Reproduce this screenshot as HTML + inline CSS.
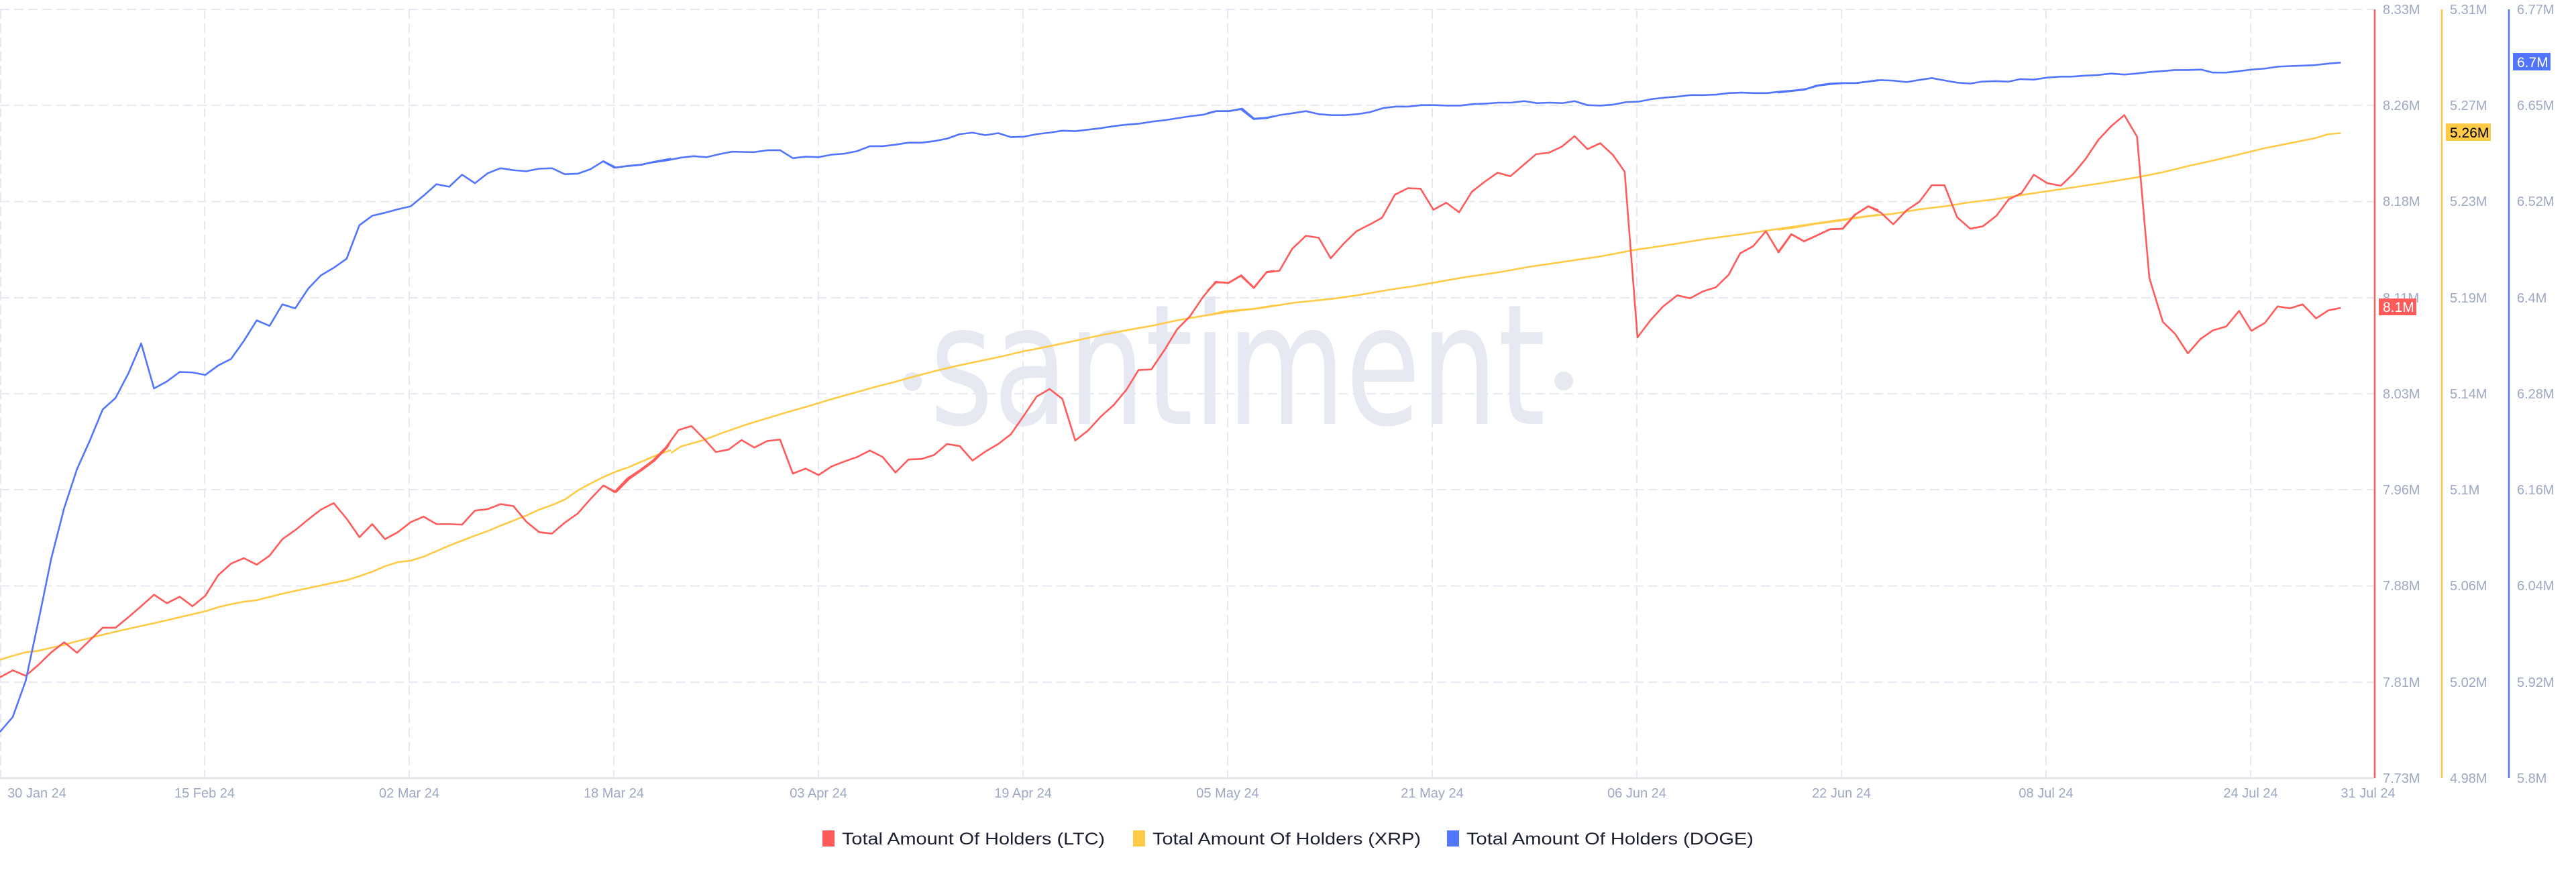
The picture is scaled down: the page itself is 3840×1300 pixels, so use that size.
<!DOCTYPE html>
<html><head><meta charset="utf-8"><style>
html,body{margin:0;padding:0;background:#fff;}
svg{display:block;}
.ax{font-family:"Liberation Sans",sans-serif;font-size:20px;fill:#9ea8c2;}
.lg{font-family:"Liberation Sans",sans-serif;font-size:25px;fill:#1d2030;}
.ln{fill:none;stroke-width:2.6;stroke-linejoin:round;vector-effect:non-scaling-stroke;}
</style></head><body>
<svg width="3840" height="1300" viewBox="0 0 3840 1300" xmlns="http://www.w3.org/2000/svg">
<g stroke="#e6e9f2" stroke-width="2" stroke-dasharray="14,7">
<line x1="0" y1="14" x2="3540" y2="14"/><line x1="0" y1="157" x2="3540" y2="157"/><line x1="0" y1="300.5" x2="3540" y2="300.5"/><line x1="0" y1="444" x2="3540" y2="444"/><line x1="0" y1="587" x2="3540" y2="587"/><line x1="0" y1="730" x2="3540" y2="730"/><line x1="0" y1="873.5" x2="3540" y2="873.5"/><line x1="0" y1="1017" x2="3540" y2="1017"/>
<line x1="1" y1="14" x2="1" y2="1160"/><line x1="305" y1="14" x2="305" y2="1160"/><line x1="610" y1="14" x2="610" y2="1160"/><line x1="915" y1="14" x2="915" y2="1160"/><line x1="1220" y1="14" x2="1220" y2="1160"/><line x1="1525" y1="14" x2="1525" y2="1160"/><line x1="1830" y1="14" x2="1830" y2="1160"/><line x1="2135" y1="14" x2="2135" y2="1160"/><line x1="2440" y1="14" x2="2440" y2="1160"/><line x1="2745" y1="14" x2="2745" y2="1160"/><line x1="3050" y1="14" x2="3050" y2="1160"/><line x1="3355" y1="14" x2="3355" y2="1160"/>
</g>
<line x1="0" y1="1160" x2="3540" y2="1160" stroke="#e2e5ee" stroke-width="2.5"/>
<!-- watermark -->
<circle cx="1360" cy="569" r="14" fill="#e6e9f2"/>
<text x="1386" y="632" font-family="'DejaVu Sans','Liberation Sans',sans-serif" font-size="250" fill="#e6e9f2" textLength="918" lengthAdjust="spacingAndGlyphs">santiment</text>
<circle cx="2331" cy="568" r="14" fill="#e6e9f2"/>
<!-- series: zoom5 -->
<g transform="translate(0,0) scale(0.6378,0.7463)">
<polyline class="ln" stroke="#ffcb47" points="0,1318 30,1310 60,1303 90,1300 120,1294 150,1288 180,1281 240,1268 300,1256 360,1245 420,1233 480,1221 510,1213 540,1207 570,1202 600,1199 660,1186 720,1175 780,1164 810,1159 840,1151 870,1142 900,1131 930,1123 960,1120 990,1112 1020,1101 1050,1090 1080,1080 1110,1070 1140,1061 1170,1050 1200,1040 1230,1030 1260,1018 1290,1009 1320,998 1350,980 1380,966 1410,953 1440,942 1470,933 1500,922 1530,911 1568,899"/>
<polyline class="ln" stroke="#ff5b5b" points="0,1353 30,1339 60,1350 90,1328 120,1303 150,1283 180,1304 210,1279 240,1254 270,1254 300,1233 330,1211 360,1188 390,1205 420,1192 450,1211 480,1190 510,1149 540,1126 570,1115 600,1128 630,1110 660,1077 690,1059 720,1038 750,1018 780,1005 810,1036 840,1073 870,1047 900,1077 930,1063 960,1043 990,1032 1020,1047 1050,1047 1080,1048 1110,1020 1140,1017 1170,1007 1200,1011 1230,1042 1260,1063 1290,1066 1320,1044 1350,1026 1380,997 1410,970 1440,983 1470,957 1500,939 1530,920 1560,893 1568,880"/>
<polyline class="ln" stroke="#5275ff" points="0,1462 30,1432 60,1360 90,1240 120,1115 150,1015 180,937 210,880 240,818 270,795 300,746 330,686 360,776 390,762 420,743 450,744 480,749 510,730 540,717 570,681 600,640 630,651 660,608 690,616 720,577 750,550 780,535 810,517 840,450 870,431 900,425 930,418 960,412 990,391 1020,368 1050,373 1080,349 1110,366 1140,346 1170,336 1200,340 1230,342 1260,337 1290,336 1320,348 1350,347 1380,338 1410,322 1440,335 1470,331 1500,329 1530,323 1568,317"/>
</g>
<g transform="translate(900,0) scale(0.6378,0.7463)">
<polyline class="ln" stroke="#ffcb47" points="157,905 180,892 230,880 280,864 330,849 380,836 430,823 480,811 530,798 580,786 630,774 680,763 730,751 780,740 830,730 880,721 930,712 980,702 1040,692 1100,681 1160,670 1220,660 1280,651 1340,640 1400,631 1460,623 1520,617 1568,610"/>
<polyline class="ln" stroke="#ff5b5b" points="0,970 25,983 55,956 85,939 115,920 145,894 175,859 205,851 235,877 262,903 292,898 322,879 352,894 382,881 412,878 442,946 472,936 502,949 532,932 562,922 592,913 622,900 652,913 682,944 712,918 742,917 772,909 802,887 832,891 862,920 892,902 922,887 952,867 982,830 1012,792 1042,777 1072,797 1102,880 1132,860 1162,832 1192,809 1222,778 1250,739 1280,738 1310,700 1340,658 1370,632 1400,594 1430,563 1460,565 1490,550 1520,575 1550,543 1568,541"/>
<polyline class="ln" stroke="#5275ff" points="0,323 25,335 50,332 80,330 110,325 150,320 180,315 210,312 240,314 270,308 300,303 350,304 385,300 412,300 442,316 472,313 502,314 532,309 562,307 592,302 622,292 652,292 682,289 712,285 742,285 772,282 802,277 832,268 862,265 892,270 922,266 952,274 982,273 1012,268 1042,265 1072,261 1102,262 1132,259 1162,256 1192,252 1222,249 1252,247 1282,243 1312,240 1342,236 1372,232 1402,229 1432,222 1462,222 1492,217 1520,237 1550,235 1568,232"/>
</g>
<g transform="translate(1800,0) scale(0.6378,0.7463)">
<polyline class="ln" stroke="#ffcb47" points="0,630 40,622 120,616 200,605 290,597 350,590 430,578 480,572 540,563 600,554 680,544 760,532 840,522 920,512 1000,499 1080,489 1160,478 1240,469 1320,459 1400,449 1480,439 1540,432 1568,429"/>
<polyline class="ln" stroke="#ff5b5b" points="0,581 20,564 50,565 78,551 108,575 138,544 168,541 198,497 230,471 260,475 288,516 318,487 348,462 378,449 408,435 438,389 468,376 498,377 528,419 558,405 588,424 618,383 648,363 678,345 708,352 738,330 768,308 798,305 828,293 858,272 888,298 918,286 948,310 975,343 1005,674 1035,640 1065,612 1098,590 1128,596 1158,582 1188,574 1218,549 1245,506 1275,492 1305,462 1335,504 1365,468 1395,482 1425,470 1455,458 1485,457 1515,428 1545,412 1568,420"/>
<polyline class="ln" stroke="#5275ff" points="0,226 20,222 50,222 78,218 108,238 138,236 168,230 200,226 230,222 260,228 290,230 320,230 350,228 380,224 410,216 440,213 470,213 500,210 530,210 560,211 590,211 620,208 650,207 680,205 710,205 740,202 770,206 800,205 830,206 858,202 888,210 918,211 948,209 978,204 1008,203 1038,198 1068,195 1098,193 1128,190 1158,190 1188,189 1218,186 1248,185 1278,186 1308,186 1338,183 1368,181 1398,178 1428,171 1458,168 1488,166 1518,166 1568,160"/>
</g>
<g transform="translate(2650,0) scale(0.5741,0.7463)">
<polyline class="ln" stroke="#ffcb47" points="0,459 40,455 100,447 160,441 235,432 300,427 370,418 435,412 500,404 565,398 630,390 700,382 770,374 840,366 935,354 1000,344 1070,331 1140,319 1200,308 1265,296 1330,286 1395,276 1430,268 1462,266"/>
<polyline class="ln" stroke="#ff5b5b" points="0,505 35,468 68,482 100,471 135,458 168,457 200,429 235,412 268,425 300,448 335,420 368,403 400,370 433,370 466,434 500,457 533,452 568,431 600,398 633,386 665,349 700,366 735,371 768,347 800,317 833,279 866,252 900,230 933,273 965,555 1000,643 1032,667 1065,706 1098,677 1130,660 1165,652 1198,621 1230,661 1265,645 1298,612 1330,616 1363,608 1398,636 1430,620 1462,615"/>
<polyline class="ln" stroke="#5275ff" points="0,185 35,182 70,179 100,171 135,167 165,166 200,166 235,163 268,160 300,161 335,164 365,160 400,156 435,161 465,165 500,167 530,163 565,162 600,163 630,158 665,159 700,155 735,153 765,153 800,151 830,150 865,147 900,149 930,147 965,144 1000,142 1030,140 1065,140 1100,139 1130,145 1165,145 1200,142 1230,139 1265,137 1300,133 1330,132 1365,131 1395,130 1430,127 1462,125"/>
</g>
<!-- axes -->
<line x1="3540" y1="14" x2="3540" y2="1160" stroke="#ff5b5b" stroke-width="2.5"/>
<line x1="3640" y1="14" x2="3640" y2="1160" stroke="#ffcb47" stroke-width="2.5"/>
<line x1="3740" y1="14" x2="3740" y2="1160" stroke="#5275ff" stroke-width="2.5"/>
<g class="ax">
<text x="3552" y="21">8.33M</text><text x="3552" y="164">8.26M</text><text x="3552" y="307">8.18M</text><text x="3552" y="451">8.11M</text><text x="3552" y="594">8.03M</text><text x="3552" y="737">7.96M</text><text x="3552" y="880">7.88M</text><text x="3552" y="1024">7.81M</text><text x="3552" y="1167">7.73M</text>
<text x="3652" y="21">5.31M</text><text x="3652" y="164">5.27M</text><text x="3652" y="307">5.23M</text><text x="3652" y="451">5.19M</text><text x="3652" y="594">5.14M</text><text x="3652" y="737">5.1M</text><text x="3652" y="880">5.06M</text><text x="3652" y="1024">5.02M</text><text x="3652" y="1167">4.98M</text>
<text x="3752" y="21">6.77M</text><text x="3752" y="164">6.65M</text><text x="3752" y="307">6.52M</text><text x="3752" y="451">6.4M</text><text x="3752" y="594">6.28M</text><text x="3752" y="737">6.16M</text><text x="3752" y="880">6.04M</text><text x="3752" y="1024">5.92M</text><text x="3752" y="1167">5.8M</text>
</g>
<rect x="3546" y="445" width="56" height="25" fill="#ff5b5b"/>
<text x="3552" y="465" font-family="'Liberation Sans',sans-serif" font-size="21" fill="#fff">8.1M</text>
<rect x="3646" y="184" width="67" height="26" fill="#ffcb47"/>
<text x="3652" y="205" font-family="'Liberation Sans',sans-serif" font-size="21" fill="#000">5.26M</text>
<rect x="3746" y="79" width="56" height="26" fill="#5275ff"/>
<text x="3752" y="100" font-family="'Liberation Sans',sans-serif" font-size="21" fill="#fff">6.7M</text>
<g class="ax" text-anchor="middle">
<text x="55" y="1189">30 Jan 24</text><text x="305" y="1189">15 Feb 24</text><text x="610" y="1189">02 Mar 24</text><text x="915" y="1189">18 Mar 24</text><text x="1220" y="1189">03 Apr 24</text><text x="1525" y="1189">19 Apr 24</text><text x="1830" y="1189">05 May 24</text><text x="2135" y="1189">21 May 24</text><text x="2440" y="1189">06 Jun 24</text><text x="2745" y="1189">22 Jun 24</text><text x="3050" y="1189">08 Jul 24</text><text x="3355" y="1189">24 Jul 24</text><text x="3530" y="1189">31 Jul 24</text>
</g>
<!-- legend -->
<rect x="1226" y="1238" width="18" height="24" fill="#ff5b5b"/>
<text class="lg" x="1255" y="1259" textLength="392" lengthAdjust="spacingAndGlyphs">Total Amount Of Holders (LTC)</text>
<rect x="1689" y="1238" width="18" height="24" fill="#ffcb47"/>
<text class="lg" x="1718" y="1259" textLength="400" lengthAdjust="spacingAndGlyphs">Total Amount Of Holders (XRP)</text>
<rect x="2157" y="1238" width="18" height="24" fill="#5275ff"/>
<text class="lg" x="2186" y="1259" textLength="428" lengthAdjust="spacingAndGlyphs">Total Amount Of Holders (DOGE)</text>
</svg>
</body></html>
